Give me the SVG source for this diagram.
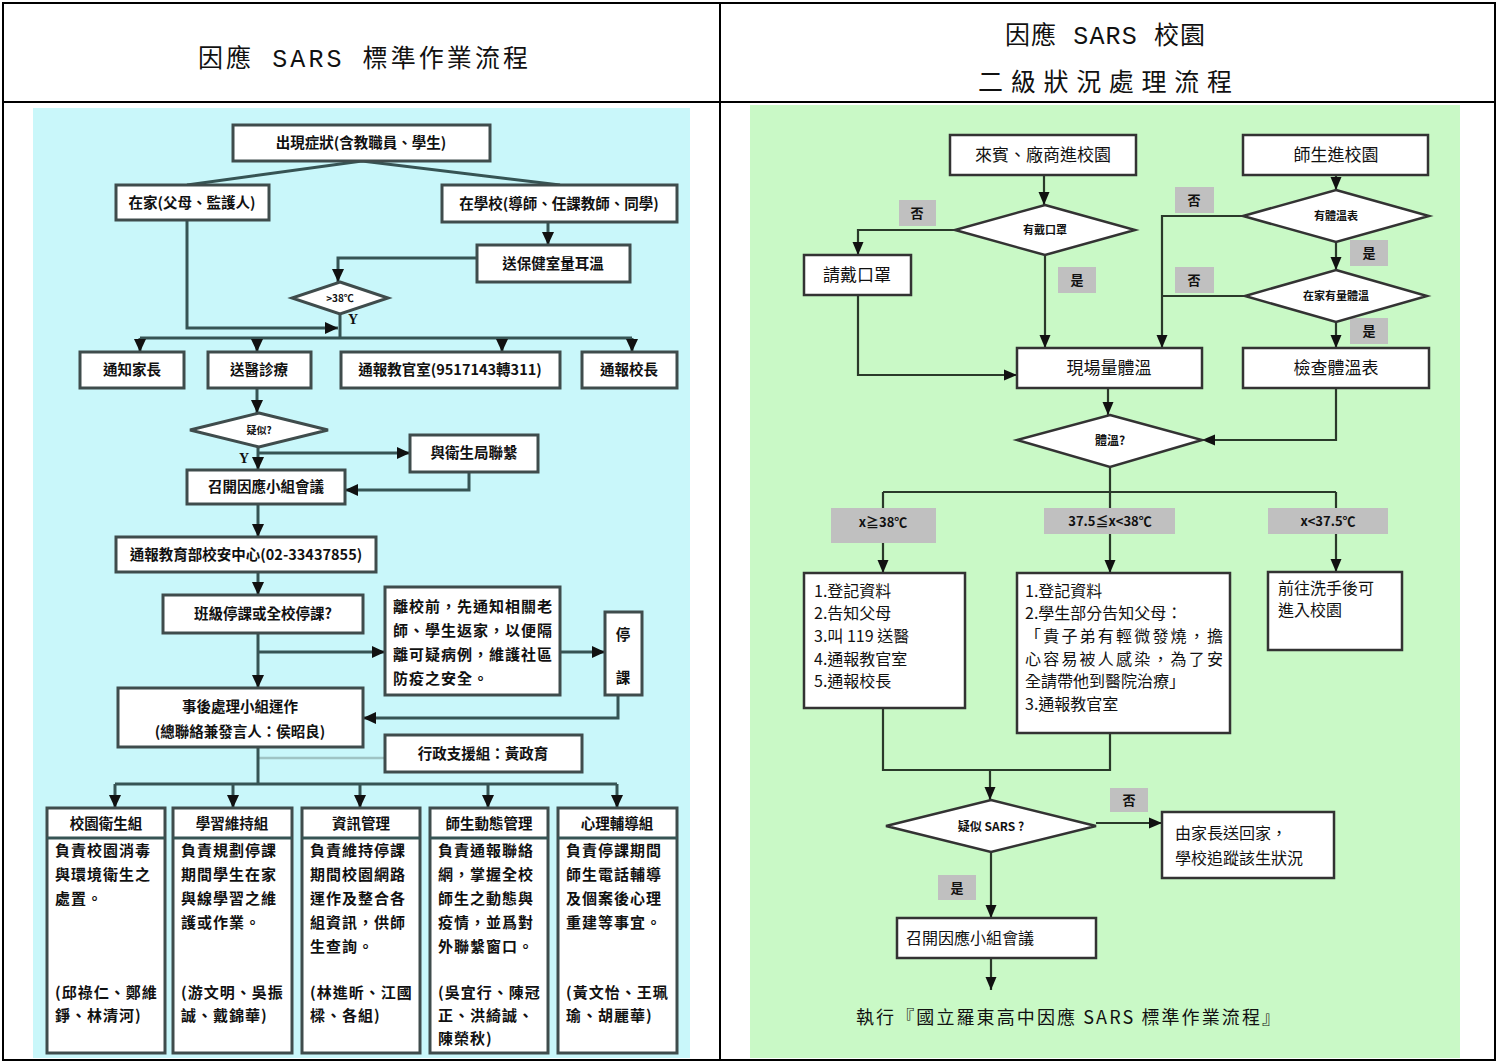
<svg xmlns="http://www.w3.org/2000/svg" width="1498" height="1063" viewBox="0 0 1498 1063">
<defs>
<marker id="ah" markerUnits="userSpaceOnUse" markerWidth="14" markerHeight="14" refX="13" refY="7" orient="auto">
<path d="M0,1 L13,7 L0,13 z" fill="#111"/>
</marker>
<marker id="ahr" markerUnits="userSpaceOnUse" markerWidth="14" markerHeight="14" refX="13" refY="7" orient="auto">
<path d="M0,1.5 L13,7 L0,12.5 z" fill="#111"/>
</marker>
</defs>
<style>
.frame{fill:none;stroke:#000;stroke-width:2}
.head{font-family:"Liberation Mono","Noto Sans CJK TC",monospace;font-size:25px;fill:#111}
.lbox{fill:#fff;stroke:#3f4c4c;stroke-width:3}
.lline{fill:none;stroke:#365454;stroke-width:3}
.lt{font-family:"Noto Sans CJK TC",sans-serif;font-weight:700;font-size:14.5px;fill:#111;text-anchor:middle}
.ls{font-family:"Noto Sans CJK TC",sans-serif;font-weight:700;font-size:15px;fill:#111;letter-spacing:1px}
.ld{font-family:"Noto Sans CJK TC",sans-serif;font-weight:700;font-size:10px;fill:#111;text-anchor:middle}
.yy{font-family:"Liberation Serif",serif;font-weight:700;font-size:14px;fill:#111}
.rbox{fill:#fff;stroke:#333;stroke-width:2.5}
.rline{fill:none;stroke:#2a3a2a;stroke-width:2.2}
.rt{font-family:"Noto Sans CJK TC",sans-serif;font-size:16px;fill:#111}
.rc{font-family:"Noto Sans CJK TC",sans-serif;font-size:17px;fill:#111;text-anchor:middle}
.rd{font-family:"Noto Sans CJK TC",sans-serif;font-weight:700;font-size:11px;fill:#111;text-anchor:middle}
.lab{fill:#c0c0c0}
.lbt{font-family:"Noto Sans CJK TC",sans-serif;font-weight:700;font-size:13px;fill:#111;text-anchor:middle}
</style>

<!-- table frame -->
<g id="table">
<rect class="frame" x="3" y="3" width="1492" height="1057"/>
<line class="frame" x1="3" y1="102" x2="1495" y2="102"/>
<line class="frame" x1="720" y1="3" x2="720" y2="1060"/>
<text class="head" x="198" y="67" textLength="330">因應 SARS 標準作業流程</text>
<text class="head" x="1005" y="44" textLength="200">因應 SARS 校園</text>
<text class="head" x="978" y="91" textLength="254">二級狀況處理流程</text>
</g>

<!-- backgrounds -->
<rect x="33" y="108" width="657" height="950" fill="#c9f7fa"/>
<rect x="750" y="105" width="710" height="953" fill="#c9f9c6"/>

<!-- LEFT connectors -->
<g id="left-connectors">
<polyline class="lline" points="187,185 362,161 560,185"/>
<line class="lline" x1="548" y1="222" x2="548" y2="245" marker-end="url(#ah)"/>
<polyline class="lline" points="477,258 338,258 338,282" marker-end="url(#ah)"/>
<polyline class="lline" points="187,220 187,328 338,328" marker-end="url(#ah)"/>
<line class="lline" x1="340" y1="314" x2="340" y2="338"/>
<line class="lline" x1="140" y1="338" x2="632" y2="338"/>
<line class="lline" x1="140" y1="338" x2="140" y2="352" marker-end="url(#ah)"/>
<line class="lline" x1="257" y1="338" x2="257" y2="352" marker-end="url(#ah)"/>
<line class="lline" x1="502" y1="338" x2="502" y2="352" marker-end="url(#ah)"/>
<line class="lline" x1="632" y1="338" x2="632" y2="352" marker-end="url(#ah)"/>
<line class="lline" x1="257" y1="388" x2="257" y2="413" marker-end="url(#ah)"/>
<line class="lline" x1="258" y1="447" x2="258" y2="470" marker-end="url(#ah)"/>
<line class="lline" x1="258" y1="453" x2="410" y2="453" marker-end="url(#ah)"/>
<polyline class="lline" points="469,472 469,490 345,490" marker-end="url(#ah)"/>
<line class="lline" x1="258" y1="504" x2="258" y2="537" marker-end="url(#ah)"/>
<line class="lline" x1="258" y1="572" x2="258" y2="595" marker-end="url(#ah)"/>
<line class="lline" x1="258" y1="633" x2="258" y2="688" marker-end="url(#ah)"/>
<line class="lline" x1="258" y1="652" x2="385" y2="652" marker-end="url(#ah)"/>
<line class="lline" x1="560" y1="652" x2="605" y2="652" marker-end="url(#ah)"/>
<polyline class="lline" points="618,695 618,718 363,718" marker-end="url(#ah)"/>
<line x1="258" y1="758" x2="385" y2="758" stroke="#9fc4c4" stroke-width="2.5"/>
<line class="lline" x1="258" y1="747" x2="258" y2="784"/>
<line class="lline" x1="115" y1="784" x2="617" y2="784"/>
<line class="lline" x1="115" y1="784" x2="115" y2="808" marker-end="url(#ah)"/>
<line class="lline" x1="233" y1="784" x2="233" y2="808" marker-end="url(#ah)"/>
<line class="lline" x1="360" y1="784" x2="360" y2="808" marker-end="url(#ah)"/>
<line class="lline" x1="488" y1="784" x2="488" y2="808" marker-end="url(#ah)"/>
<line class="lline" x1="617" y1="784" x2="617" y2="808" marker-end="url(#ah)"/>
<text class="yy" x="348" y="324">Y</text>
<text class="yy" x="239" y="463">Y</text>
</g>

<!-- LEFT nodes -->
<g id="n-onset"><rect class="lbox" x="233" y="125" width="257" height="36"/><text class="lt" x="361" y="148">出現症狀(含教職員、學生)</text></g>
<g id="n-home"><rect class="lbox" x="116" y="185" width="153" height="35"/><text class="lt" x="192" y="208">在家(父母、監護人)</text></g>
<g id="n-school"><rect class="lbox" x="442" y="185" width="235" height="37"/><text class="lt" x="559" y="209">在學校(導師、任課教師、同學)</text></g>
<g id="n-nurse"><rect class="lbox" x="477" y="245" width="153" height="37"/><text class="lt" x="553" y="269">送保健室量耳溫</text></g>
<g id="n-d38"><polygon class="lbox" points="340,282 388,298 340,314 292,298"/><text class="ld" x="340" y="302">&gt;38℃</text></g>
<g id="n-parent"><rect class="lbox" x="80" y="352" width="104" height="36"/><text class="lt" x="132" y="375">通知家長</text></g>
<g id="n-hosp"><rect class="lbox" x="208" y="352" width="103" height="36"/><text class="lt" x="259" y="375">送醫診療</text></g>
<g id="n-office"><rect class="lbox" x="341" y="352" width="219" height="36"/><text class="lt" x="450" y="375">通報教官室(9517143轉311)</text></g>
<g id="n-principal"><rect class="lbox" x="582" y="352" width="95" height="36"/><text class="lt" x="629" y="375">通報校長</text></g>
<g id="n-suspect"><polygon class="lbox" points="259,413 328,430 259,447 190,430"/><text class="ld" x="259" y="434">疑似?</text></g>
<g id="n-health"><rect class="lbox" x="410" y="435" width="128" height="37"/><text class="lt" x="474" y="458">與衛生局聯繫</text></g>
<g id="n-meet"><rect class="lbox" x="187" y="470" width="158" height="34"/><text class="lt" x="266" y="492">召開因應小組會議</text></g>
<g id="n-moe"><rect class="lbox" x="116" y="537" width="260" height="35"/><text class="lt" x="246" y="560">通報教育部校安中心(02-33437855)</text></g>
<g id="n-class"><rect class="lbox" x="163" y="595" width="200" height="38"/><text class="lt" x="263" y="619">班級停課或全校停課?</text></g>
<g id="n-leave"><rect class="lbox" x="385" y="587" width="175" height="108"/>
<text class="ls" x="393" y="612">離校前，先通知相關老</text>
<text class="ls" x="393" y="636">師、學生返家，以便隔</text>
<text class="ls" x="393" y="660">離可疑病例，維護社區</text>
<text class="ls" x="393" y="684">防疫之安全。</text></g>
<g id="n-stop"><rect class="lbox" x="605" y="612" width="37" height="83"/><text class="lt" x="623" y="640">停</text><text class="lt" x="623" y="683">課</text></g>
<g id="n-after"><rect class="lbox" x="118" y="688" width="245" height="59"/><text class="lt" x="240" y="712">事後處理小組運作</text><text class="lt" x="240" y="737">(總聯絡兼發言人：侯昭良)</text></g>
<g id="n-admin"><rect class="lbox" x="385" y="735" width="197" height="37"/><text class="lt" x="483" y="759">行政支援組：黃政育</text></g>

<g id="n-g1"><rect class="lbox" x="47" y="808" width="118" height="245"/><line class="lline" x1="47" y1="838" x2="165" y2="838"/>
<text class="lt" x="106" y="829">校園衛生組</text>
<text class="ls" x="55" y="856">負責校園消毒</text><text class="ls" x="55" y="880">與環境衛生之</text><text class="ls" x="55" y="904">處置。</text>
<text class="ls" x="55" y="998">(邱祿仁、鄭維</text><text class="ls" x="55" y="1021">錚、林清河)</text></g>
<g id="n-g2"><rect class="lbox" x="173" y="808" width="119" height="245"/><line class="lline" x1="173" y1="838" x2="292" y2="838"/>
<text class="lt" x="232" y="829">學習維持組</text>
<text class="ls" x="181" y="856">負責規劃停課</text><text class="ls" x="181" y="880">期間學生在家</text><text class="ls" x="181" y="904">與線學習之維</text><text class="ls" x="181" y="928">護或作業。</text>
<text class="ls" x="181" y="998">(游文明、吳振</text><text class="ls" x="181" y="1021">誠、戴錦華)</text></g>
<g id="n-g3"><rect class="lbox" x="302" y="808" width="118" height="245"/><line class="lline" x1="302" y1="838" x2="420" y2="838"/>
<text class="lt" x="361" y="829">資訊管理</text>
<text class="ls" x="310" y="856">負責維持停課</text><text class="ls" x="310" y="880">期間校園網路</text><text class="ls" x="310" y="904">運作及整合各</text><text class="ls" x="310" y="928">組資訊，供師</text><text class="ls" x="310" y="952">生查詢。</text>
<text class="ls" x="310" y="998">(林進昕、江國</text><text class="ls" x="310" y="1021">樑、各組)</text></g>
<g id="n-g4"><rect class="lbox" x="430" y="808" width="118" height="245"/><line class="lline" x1="430" y1="838" x2="548" y2="838"/>
<text class="lt" x="489" y="829">師生動態管理</text>
<text class="ls" x="438" y="856">負責通報聯絡</text><text class="ls" x="438" y="880">網，掌握全校</text><text class="ls" x="438" y="904">師生之動態與</text><text class="ls" x="438" y="928">疫情，並爲對</text><text class="ls" x="438" y="952">外聯繫窗口。</text>
<text class="ls" x="438" y="998">(吳宜行、陳冠</text><text class="ls" x="438" y="1021">正、洪綺誠、</text><text class="ls" x="438" y="1044">陳榮秋)</text></g>
<g id="n-g5"><rect class="lbox" x="558" y="808" width="119" height="245"/><line class="lline" x1="558" y1="838" x2="677" y2="838"/>
<text class="lt" x="617" y="829">心理輔導組</text>
<text class="ls" x="566" y="856">負責停課期間</text><text class="ls" x="566" y="880">師生電話輔導</text><text class="ls" x="566" y="904">及個案後心理</text><text class="ls" x="566" y="928">重建等事宜。</text>
<text class="ls" x="566" y="998">(黃文怡、王珮</text><text class="ls" x="566" y="1021">瑜、胡麗華)</text></g>

<!-- RIGHT connectors -->
<g id="right-connectors">
<line class="rline" x1="1044" y1="175" x2="1044" y2="205" marker-end="url(#ahr)"/>
<polyline class="rline" points="955,230 858,230 858,255" marker-end="url(#ahr)"/>
<polyline class="rline" points="858,295 858,375 1017,375" marker-end="url(#ahr)"/>
<line class="rline" x1="1045" y1="255" x2="1045" y2="348" marker-end="url(#ahr)"/>
<line class="rline" x1="1336" y1="175" x2="1336" y2="190" marker-end="url(#ahr)"/>
<polyline class="rline" points="1243,216 1162,216 1162,348" marker-end="url(#ahr)"/>
<line class="rline" x1="1245" y1="296" x2="1162" y2="296"/>
<line class="rline" x1="1336" y1="242" x2="1336" y2="270" marker-end="url(#ahr)"/>
<line class="rline" x1="1336" y1="322" x2="1336" y2="348" marker-end="url(#ahr)"/>
<line class="rline" x1="1108" y1="388" x2="1108" y2="415" marker-end="url(#ahr)"/>
<polyline class="rline" points="1336,388 1336,440 1202,440" marker-end="url(#ahr)"/>
<line class="rline" x1="1110" y1="467" x2="1110" y2="492"/>
<line class="rline" x1="883" y1="492" x2="1336" y2="492"/>
<line class="rline" x1="883" y1="492" x2="883" y2="573" marker-end="url(#ahr)"/>
<line class="rline" x1="1110" y1="492" x2="1110" y2="573" marker-end="url(#ahr)"/>
<line class="rline" x1="1336" y1="492" x2="1336" y2="572" marker-end="url(#ahr)"/>
<polyline class="rline" points="883,708 883,770 1110,770 1110,733"/>
<line class="rline" x1="990" y1="770" x2="990" y2="800" marker-end="url(#ahr)"/>
<line class="rline" x1="1096" y1="823" x2="1162" y2="823" marker-end="url(#ahr)"/>
<line class="rline" x1="991" y1="852" x2="991" y2="918" marker-end="url(#ahr)"/>
<line class="rline" x1="991" y1="958" x2="991" y2="990" marker-end="url(#ahr)"/>
<rect class="lab" x="899" y="200" width="37" height="26"/><text class="lbt" x="917" y="218">否</text>
<rect class="lab" x="1058" y="267" width="38" height="26"/><text class="lbt" x="1077" y="285">是</text>
<rect class="lab" x="1175" y="187" width="39" height="26"/><text class="lbt" x="1194" y="205">否</text>
<rect class="lab" x="1350" y="240" width="38" height="26"/><text class="lbt" x="1369" y="258">是</text>
<rect class="lab" x="1175" y="267" width="39" height="26"/><text class="lbt" x="1194" y="285">否</text>
<rect class="lab" x="1350" y="318" width="38" height="26"/><text class="lbt" x="1369" y="336">是</text>
<rect class="lab" x="831" y="508" width="105" height="35"/><text class="lbt" x="883" y="527">x≧38℃</text>
<rect class="lab" x="1044" y="508" width="131" height="26"/><text class="lbt" x="1110" y="526">37.5≦x&lt;38℃</text>
<rect class="lab" x="1268" y="508" width="120" height="26"/><text class="lbt" x="1328" y="526">x&lt;37.5℃</text>
<rect class="lab" x="1110" y="788" width="38" height="24"/><text class="lbt" x="1129" y="805">否</text>
<rect class="lab" x="938" y="875" width="38" height="25"/><text class="lbt" x="957" y="893">是</text>
</g>

<!-- RIGHT nodes -->
<g id="n-guest"><rect class="rbox" x="950" y="135" width="186" height="40"/><text class="rc" x="1043" y="161">來賓、廠商進校園</text></g>
<g id="n-teach"><rect class="rbox" x="1243" y="135" width="185" height="40"/><text class="rc" x="1336" y="161">師生進校園</text></g>
<g id="n-mask"><polygon class="rbox" points="1045,205 1135,230 1045,255 955,230"/><text class="rd" x="1045" y="234">有戴口罩</text></g>
<g id="n-wear"><rect class="rbox" x="804" y="255" width="107" height="40"/><text class="rc" x="857" y="281">請戴口罩</text></g>
<g id="n-card"><polygon class="rbox" points="1336,190 1429,216 1336,242 1243,216"/><text class="rd" x="1336" y="220">有體溫表</text></g>
<g id="n-homet"><polygon class="rbox" points="1336,270 1427,296 1336,322 1245,296"/><text class="rd" x="1336" y="300">在家有量體溫</text></g>
<g id="n-measure"><rect class="rbox" x="1017" y="348" width="185" height="40"/><text class="rc" x="1109" y="374">現場量體溫</text></g>
<g id="n-check"><rect class="rbox" x="1243" y="348" width="186" height="40"/><text class="rc" x="1336" y="374">檢查體溫表</text></g>
<g id="n-temp"><polygon class="rbox" points="1110,415 1202,440 1110,467 1017,440"/><text class="rd" x="1110" y="445" style="font-size:12px">體溫?</text></g>
<g id="n-high"><rect class="rbox" x="804" y="573" width="161" height="135"/>
<text class="rt" x="814" y="597">1.登記資料</text><text class="rt" x="814" y="619">2.告知父母</text><text class="rt" x="814" y="642">3.叫 119 送醫</text><text class="rt" x="814" y="665">4.通報教官室</text><text class="rt" x="814" y="687">5.通報校長</text></g>
<g id="n-mid"><rect class="rbox" x="1017" y="573" width="213" height="160"/>
<text class="rt" x="1025" y="597">1.登記資料</text><text class="rt" x="1025" y="619">2.學生部分告知父母：</text><text class="rt" x="1025" y="642" textLength="198">「貴子弟有輕微發燒，擔</text><text class="rt" x="1025" y="665" textLength="198">心容易被人感染，為了安</text><text class="rt" x="1025" y="687">全請帶他到醫院治療」</text><text class="rt" x="1025" y="710">3.通報教官室</text></g>
<g id="n-low"><rect class="rbox" x="1268" y="572" width="134" height="78"/>
<text class="rt" x="1278" y="594">前往洗手後可</text><text class="rt" x="1278" y="616">進入校園</text></g>
<g id="n-sars"><polygon class="rbox" points="991,800 1096,826 991,852 886,826"/><text class="rd" x="991" y="831" style="font-size:12px">疑似 SARS ?</text></g>
<g id="n-home2"><rect class="rbox" x="1162" y="812" width="172" height="66"/><text class="rt" x="1175" y="839">由家長送回家，</text><text class="rt" x="1175" y="864">學校追蹤該生狀況</text></g>
<g id="n-meet2"><rect class="rbox" x="897" y="918" width="199" height="40"/><text class="rt" x="906" y="944">召開因應小組會議</text></g>
<g id="n-exec"><text class="rt" x="856" y="1024" textLength="424" style="font-size:18px">執行『國立羅東高中因應 SARS 標準作業流程』</text></g>
</svg>
